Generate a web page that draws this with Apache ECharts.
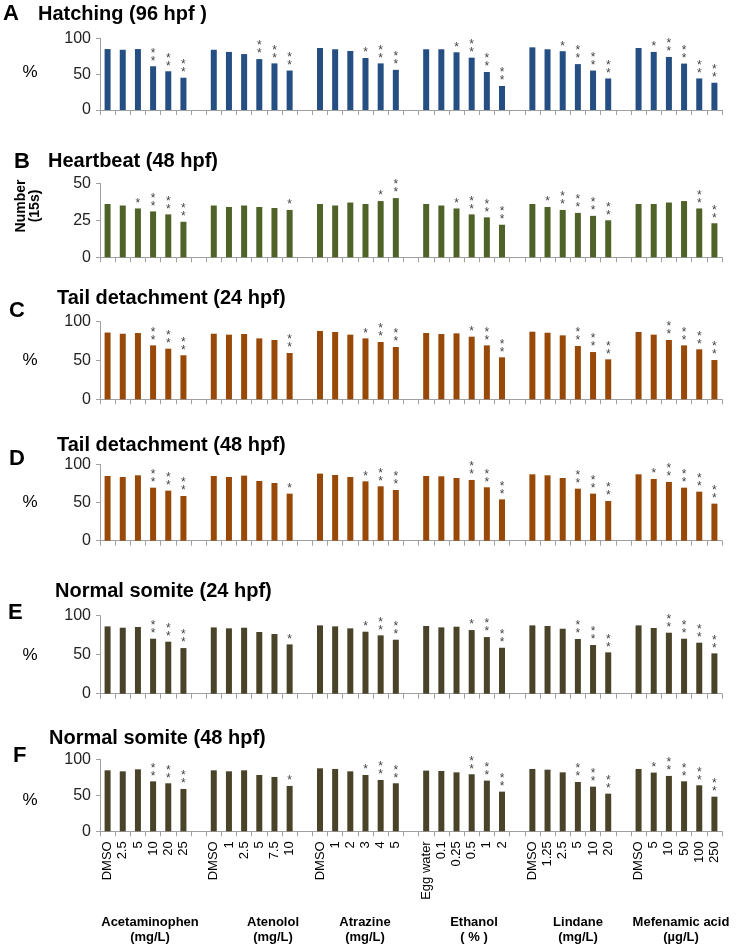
<!DOCTYPE html>
<html>
<head>
<meta charset="utf-8">
<script src="https://cdn.jsdelivr.net/npm/echarts@6/dist/echarts.min.js"></script>
<style>
html,body{margin:0;padding:0;background:#fff;}
#chart{width:736px;height:948px;}
</style>
</head>
<body>
<div id="chart"></div>
<script>
// ---- DATA ----
const groupNames = ['Acetaminophen\n(mg/L)', 'Atenolol\n(mg/L)', 'Atrazine\n(mg/L)', 'Ethanol\n( % )', 'Lindane\n(mg/L)', 'Mefenamic acid\n(µg/L)'];
const doseLabels = [
  ['DMSO','2.5','5','10','20','25'],
  ['DMSO','1','2.5','5','7.5','10'],
  ['DMSO','1','2','3','4','5'],
  ['Egg water','0.1','0.25','0.5','1','2'],
  ['DMSO','1.25','2.5','5','10','20'],
  ['DMSO','5','10','50','100','250']
];
const panelTitles = ['Hatching (96 hpf )', 'Heartbeat (48 hpf)', 'Tail detachment (24 hpf)', 'Tail detachment (48 hpf)', 'Normal somite (24 hpf)', 'Normal somite (48 hpf)'];
const panelLetters = ['A','B','C','D','E','F'];
const yTicks = [[0,50,100],[0,25,50],[0,50,100],[0,50,100],[0,50,100],[0,50,100]];

const hatching96 = [85,84,85,61,54,45, 84,81,78,71,65,55, 86.5,84.7,82.3,72.5,65,56, 84.7,84.7,80.5,73,53,33.5, 87.4,84.7,82,64,55,44, 86.5,81,74,64.7,44,38];
const heartbeat48 = [36,35,33,31,29,24, 35,34,35,34,33.3,32, 36,35,37,36,38,40, 36,35,33,29,27,22, 36,34,32,30,28,25, 36,36,37,38,33,23];
const tail24 = [86,84.5,85.4,69.5,65.2,56.7, 84.5,83.3,84.1,78.5,76.4,59.7, 88,86.7,83.3,78.5,73.8,67.4, 85.4,84.1,85,80.7,69.5,54.1, 87.1,85.8,82.4,68.7,60.9,51.5, 86.7,83.3,76.4,69.5,64.4,50.6];
const tail48 = [84.7,83.4,85.6,69.4,65.5,58.5, 84.7,83.4,85.2,78.2,75.5,61.6, 87.8,86,83.4,77.7,71.2,66.4, 84.7,84.3,82.1,79.5,69.9,54.1, 86.9,85.6,82.1,68.1,61.6,52, 86.9,80.8,76.9,69.4,64.2,48.5];
const somite24 = [86.3,84.6,85.5,70.5,66.7,58.5, 85,83.8,84.6,79.1,76.5,63.2, 87.6,86.3,83.8,79.5,74.8,69.2, 86.8,85,85.9,81.6,72.6,58.9, 87.6,86.8,83.3,70.1,62.4,53, 87.6,84.2,78.2,70.5,65.4,51.7];
const somite48 = [84.7,83.3,86.1,69.4,66.7,58.8, 84.7,83.3,84.7,78.2,75.5,63, 87.5,86.6,83.3,78.2,71.3,66.7, 84.3,83.8,81.9,79.2,70.4,55.1, 86.6,85.6,81.9,68.5,62,52.3, 86.6,81.5,76.9,69.4,63.9,48.1];

// significance: 0 none, 1 = *, 2 = **
const sigA = [0,0,0,2,2,2, 0,0,0,2,2,2, 0,0,0,1,2,2, 0,0,1,2,2,2, 0,0,1,2,2,2, 0,1,2,2,2,2];
const sigB = [0,0,1,2,2,2, 0,0,0,0,0,1, 0,0,0,0,1,2, 0,0,1,2,2,2, 0,1,2,2,2,2, 0,0,0,0,2,2];
const sigC = [0,0,0,2,2,2, 0,0,0,0,0,2, 0,0,0,1,2,2, 0,0,0,1,2,2, 0,0,0,2,2,2, 0,0,2,2,2,2];
const sigD = [0,0,0,2,2,2, 0,0,0,0,0,1, 0,0,0,1,2,2, 0,0,0,2,2,2, 0,0,0,2,2,2, 0,1,2,2,2,2];
const sigE = [0,0,0,2,2,2, 0,0,0,0,0,1, 0,0,0,1,2,2, 0,0,0,1,2,2, 0,0,0,2,2,2, 0,0,2,2,2,2];
const sigF = [0,0,0,2,2,2, 0,0,0,0,0,1, 0,0,0,1,2,2, 0,0,0,2,2,2, 0,0,0,2,2,2, 0,1,2,2,2,2];

// ---- BUILD ----
const panelValues = [hatching96, heartbeat48, tail24, tail48, somite24, somite48];
const panelSigs = [sigA, sigB, sigC, sigD, sigE, sigF];
const panelColors = ['#254F82', '#4F6228', '#984807', '#984807', '#494429', '#494429'];
const gridTops = [38.3, 183.3, 321.7, 464.3, 615.7, 759.3];
const gridHeights = [71.7, 74, 77.6, 76.4, 78, 72];

function expand(arr, gapVal) {
  const out = [];
  for (let g = 0; g < 6; g++) {
    if (g > 0) out.push(gapVal);
    for (let k = 0; k < 6; k++) out.push(arr[g * 6 + k]);
  }
  return out;
}
const categories = [];
doseLabels.forEach((d, i) => { if (i > 0) categories.push(''); d.forEach(x => categories.push(x)); });
const sigText = ['', '*', '*\n*'];

const grids = [], xAxes = [], yAxes = [], series = [];
for (let p = 0; p < 6; p++) {
  grids.push({ left: 100, right: 14, top: gridTops[p], height: gridHeights[p] });
  const last = p === 5;
  xAxes.push({
    type: 'category', gridIndex: p, data: categories,
    axisLine: { lineStyle: { color: '#a0a0a0', width: 1 } },
    axisTick: { show: true, interval: 0, length: 5, lineStyle: { color: '#a0a0a0' } },
    axisLabel: last ? { show: true, interval: 0, rotate: 90, fontSize: 13, color: '#000', margin: 10, fontFamily: 'Arial, Liberation Sans' } : { show: false },
    splitLine: { show: false }
  });
  const t = yTicks[p];
  yAxes.push({
    type: 'value', gridIndex: p, min: t[0], max: t[2], interval: t[1] - t[0],
    axisLine: { show: true, lineStyle: { color: '#a0a0a0' } },
    axisTick: { show: true, length: 4, lineStyle: { color: '#a0a0a0' } },
    axisLabel: { fontSize: 16, color: '#222', margin: 9, fontFamily: 'Arial, Liberation Sans' },
    splitLine: { show: false }
  });
  const vals = expand(panelValues[p], '-');
  const sigs = expand(panelSigs[p], 0);
  series.push({
    type: 'bar', xAxisIndex: p, yAxisIndex: p, data: vals, barWidth: 6,
    itemStyle: { color: panelColors[p] },
    label: {
      show: true, position: 'top', distance: 1, fontSize: 12, lineHeight: 8, color: '#444',
      fontFamily: 'Arial, Liberation Sans',
      formatter: (prm) => sigText[sigs[prm.dataIndex]] || ''
    },
    silent: true, animation: false
  });
}

// text layout
const letterPos = [[3,14],[14,162],[9,311],[9,459],[8,613],[13,756]];
const titlePos = [[38,14],[48,161],[57,298],[57,445],[55,591],[49,738]];
const pctY = [72, null, 360, 502, 655, 800];
const graphics = [];
for (let p = 0; p < 6; p++) {
  graphics.push({ type: 'text', x: letterPos[p][0], y: letterPos[p][1], style: { text: panelLetters[p], font: 'bold 22px Arial, Liberation Sans', fill: '#000', textVerticalAlign: 'middle' } });
  graphics.push({ type: 'text', x: titlePos[p][0], y: titlePos[p][1], style: { text: panelTitles[p], font: 'bold 20px Arial, Liberation Sans', fill: '#000', textVerticalAlign: 'middle' } });
  if (pctY[p] !== null) {
    graphics.push({ type: 'text', x: 30, y: pctY[p], style: { text: '%', font: '17px Arial, Liberation Sans', fill: '#000', textAlign: 'center', textVerticalAlign: 'middle' } });
  }
}
graphics.push({ type: 'text', x: 28, y: 206, rotation: Math.PI / 2, style: { text: 'Number\n(15s)', font: 'bold 14px Arial, Liberation Sans', fill: '#000', textAlign: 'center', textVerticalAlign: 'middle', lineHeight: 14 } });
const groupLabelX = [150, 273, 365, 474, 578, 681];
groupNames.forEach((g, i) => {
  graphics.push({ type: 'text', x: groupLabelX[i], y: 915, style: { text: g, font: 'bold 13px Arial, Liberation Sans', fill: '#000', textAlign: 'center', textVerticalAlign: 'top', lineHeight: 15 } });
});

const chart = echarts.init(document.getElementById('chart'), null, { renderer: 'canvas' });
chart.setOption({
  animation: false,
  backgroundColor: '#fff',
  grid: grids, xAxis: xAxes, yAxis: yAxes, series: series,
  graphic: graphics
});
</script>
</body>
</html>
